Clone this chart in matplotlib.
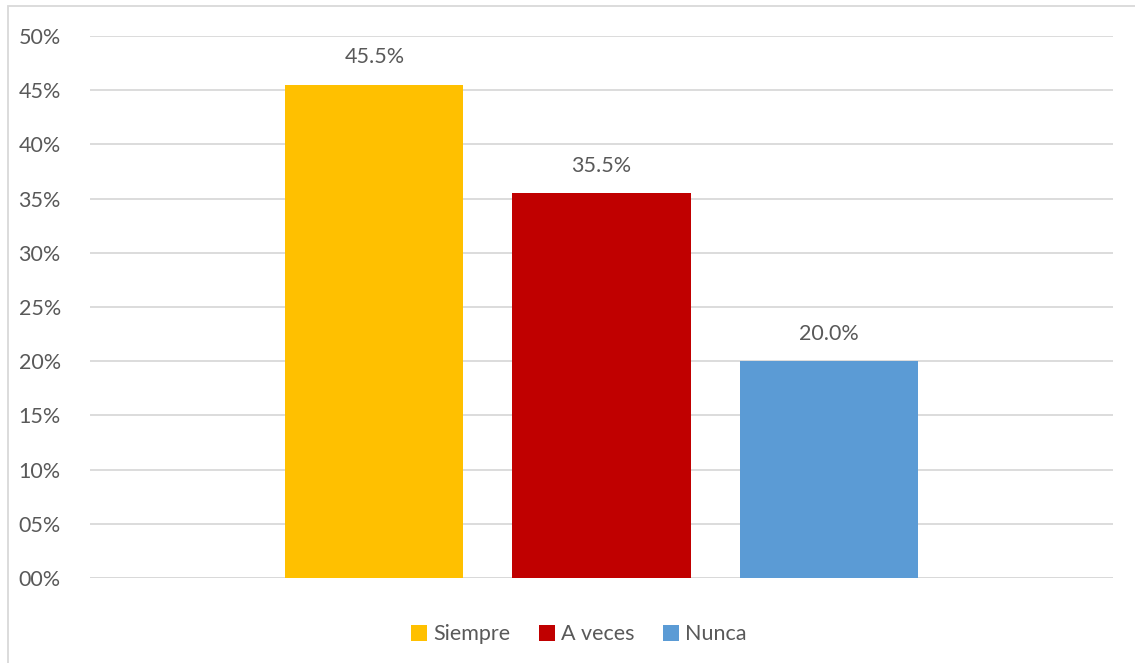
import matplotlib.pyplot as plt
from matplotlib.patches import Rectangle
from matplotlib.ticker import FuncFormatter

categories = ["Siempre", "A veces", "Nunca"]
values = [45.5, 35.5, 20.0]
colors = ["#FFC000", "#C00000", "#5B9BD5"]
yticks = [0, 5, 10, 15, 20, 25, 30, 35, 40, 45, 50]

plt.rcParams['font.family'] = ['Lato', 'DejaVu Sans']
text_color = "#595959"
grid_color = "#D9D9D9"

fig = plt.figure(figsize=(11.35, 6.63), dpi=100)
W, H = 1135, 663
ax = fig.add_axes([90 / W, 1 - 578 / H, 1023 / W, (578 - 36) / H])

# one category, three series side by side
width = 0.174
step = 0.222
for i, (name, v, c) in enumerate(zip(categories, values, colors)):
    x = (i - 1) * step
    ax.bar(x, v, width=width, color=c, label=name, zorder=3)
    ax.text(x, v + 1.6, f"{v:.1f}%", ha="center", va="bottom",
            fontsize=15.5, color=text_color)

ax.set_xlim(-0.5, 0.5)
ax.set_ylim(0, 50)
ax.set_yticks(yticks)
ax.yaxis.set_major_formatter(FuncFormatter(lambda v, p: f"{int(v):02d}%"))
ax.set_xticks([])
ax.grid(axis="y", color=grid_color, linewidth=1.3, zorder=0)
ax.tick_params(axis="y", length=0, pad=21, labelsize=15.5, labelcolor=text_color)
for s in ax.spines.values():
    s.set_visible(False)
ax.axhline(0, color=grid_color, linewidth=1.3, zorder=2)

leg = ax.legend(loc="upper center", bbox_to_anchor=(0.478, -0.05), ncol=3,
                frameon=False, fontsize=15.5, handlelength=0.75, handleheight=0.75,
                handletextpad=0.3, columnspacing=1.3)
for t in leg.get_texts():
    t.set_color(text_color)

# chart frame
fig.patches.append(Rectangle((8 / W, -0.1), 1.2, 1 - 6 / H + 0.1,
                             transform=fig.transFigure, fill=False,
                             edgecolor=grid_color, linewidth=1.3))

fig.savefig("out.png", dpi=100)
